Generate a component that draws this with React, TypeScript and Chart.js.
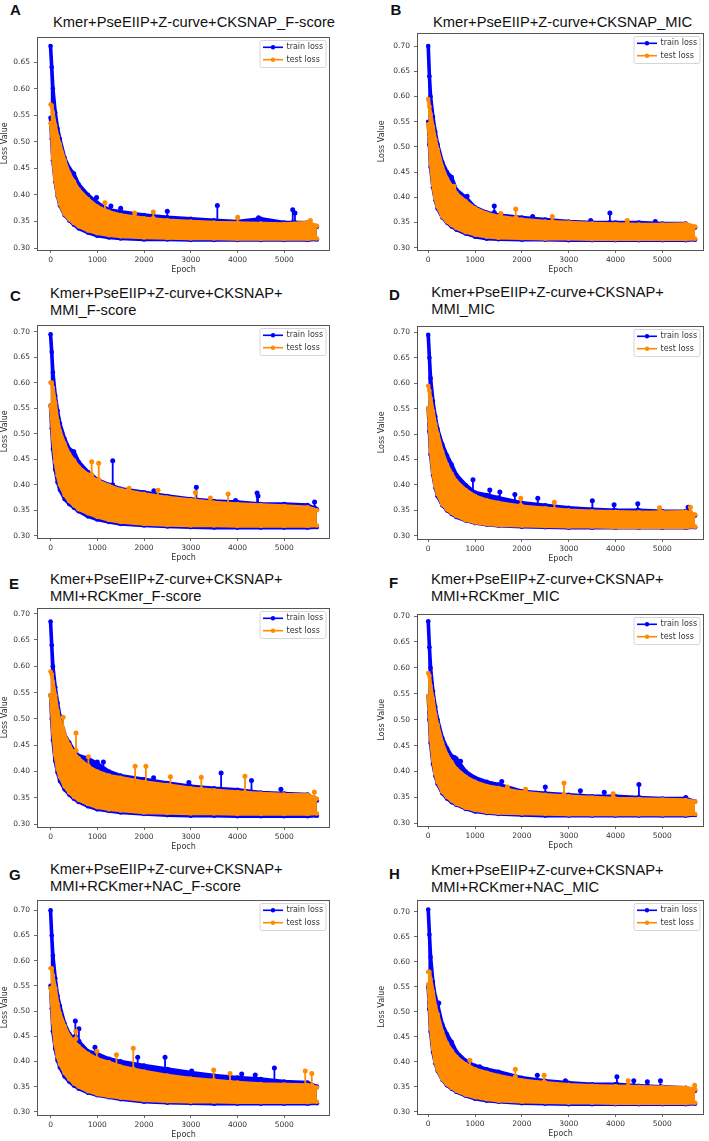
import React, { useEffect, useRef } from "react";
import { Chart, registerables } from "chart.js";

Chart.register(...registerables);

// ---------------- data ----------------
const EPOCHS = [0, 25, 50, 100, 150, 200, 300, 400, 500, 600, 800, 1000, 1250, 1500, 2000, 2500, 3000, 3500, 4000, 4500, 5000, 5500, 5700];
const Y_TICKS = [0.3, 0.35, 0.4, 0.45, 0.5, 0.55, 0.6, 0.65, 0.7];
const X_TICKS = [0, 1000, 2000, 3000, 4000, 5000];
const LEGEND_LABELS = ["train loss", "test loss"];
const X_LABEL = "Epoch";
const Y_LABEL = "Loss Value";

const LETTERS = ["A", "B", "C", "D", "E", "F", "G", "H"];
const TITLES = [
  "Kmer+PseEIIP+Z-curve+CKSNAP_F-score",
  "Kmer+PseEIIP+Z-curve+CKSNAP_MIC",
  "Kmer+PseEIIP+Z-curve+CKSNAP+\nMMI_F-score",
  "Kmer+PseEIIP+Z-curve+CKSNAP+\nMMI_MIC",
  "Kmer+PseEIIP+Z-curve+CKSNAP+\nMMI+RCKmer_F-score",
  "Kmer+PseEIIP+Z-curve+CKSNAP+\nMMI+RCKmer_MIC",
  "Kmer+PseEIIP+Z-curve+CKSNAP+\nMMI+RCKmer+NAC_F-score",
  "Kmer+PseEIIP+Z-curve+CKSNAP+\nMMI+RCKmer+NAC_MIC",
];

// upper / lower envelope of the dense loss traces, per panel
const A_TRAIN_HI = [0.680, 0.640, 0.600, 0.555, 0.525, 0.505, 0.470, 0.450, 0.440, 0.420, 0.400, 0.385, 0.372, 0.368, 0.362, 0.358, 0.355, 0.352, 0.350, 0.355, 0.348, 0.348, 0.340];
const A_TRAIN_LO = [0.545, 0.505, 0.465, 0.425, 0.398, 0.380, 0.362, 0.352, 0.344, 0.337, 0.329, 0.323, 0.320, 0.318, 0.316, 0.316, 0.315, 0.315, 0.315, 0.315, 0.315, 0.315, 0.316];
const A_TEST_HI = [0.570, 0.568, 0.555, 0.530, 0.510, 0.495, 0.465, 0.440, 0.425, 0.410, 0.392, 0.378, 0.368, 0.362, 0.356, 0.352, 0.350, 0.348, 0.347, 0.346, 0.345, 0.348, 0.342];
const A_TEST_LO = [0.535, 0.520, 0.470, 0.428, 0.400, 0.383, 0.364, 0.354, 0.347, 0.341, 0.333, 0.328, 0.324, 0.322, 0.320, 0.319, 0.318, 0.318, 0.317, 0.317, 0.317, 0.317, 0.318];
const A_TRAIN_SPIKES = [[985, 0.375, 0.395], [1292, 0.365, 0.379], [1500, 0.365, 0.375], [2498, 0.355, 0.369], [3569, 0.35, 0.38], [4450, 0.35, 0.357], [5182, 0.348, 0.372], [5230, 0.348, 0.366]];
const A_TEST_SPIKES = [[1163, 0.37, 0.385], [1800, 0.358, 0.366], [2198, 0.356, 0.368], [4004, 0.347, 0.358], [5560, 0.345, 0.352]];

const B_TRAIN_HI = [0.700, 0.640, 0.600, 0.560, 0.530, 0.505, 0.470, 0.450, 0.440, 0.415, 0.400, 0.380, 0.370, 0.365, 0.360, 0.356, 0.352, 0.350, 0.350, 0.350, 0.348, 0.348, 0.340];
const B_TRAIN_LO = [0.550, 0.505, 0.460, 0.420, 0.395, 0.378, 0.360, 0.350, 0.342, 0.336, 0.328, 0.322, 0.318, 0.317, 0.316, 0.316, 0.315, 0.315, 0.315, 0.315, 0.315, 0.315, 0.316];
const B_TEST_HI = [0.595, 0.580, 0.565, 0.540, 0.515, 0.495, 0.460, 0.437, 0.422, 0.408, 0.392, 0.378, 0.368, 0.362, 0.356, 0.352, 0.350, 0.348, 0.347, 0.346, 0.346, 0.347, 0.342];
const B_TEST_LO = [0.545, 0.520, 0.470, 0.425, 0.398, 0.382, 0.362, 0.352, 0.345, 0.339, 0.331, 0.326, 0.322, 0.320, 0.319, 0.318, 0.318, 0.317, 0.317, 0.317, 0.317, 0.317, 0.318];
const B_TRAIN_SPIKES = [[830, 0.39, 0.402], [1410, 0.37, 0.383], [2230, 0.355, 0.362], [3470, 0.35, 0.354], [3880, 0.35, 0.369], [4850, 0.348, 0.352]];
const B_TEST_SPIKES = [[550, 0.415, 0.422], [1550, 0.36, 0.368], [1870, 0.36, 0.377], [2650, 0.352, 0.362], [4250, 0.348, 0.354]];

const C_TRAIN_HI = [0.695, 0.660, 0.620, 0.575, 0.545, 0.520, 0.490, 0.470, 0.465, 0.445, 0.425, 0.410, 0.400, 0.392, 0.385, 0.378, 0.372, 0.368, 0.366, 0.362, 0.362, 0.360, 0.352];
const C_TRAIN_LO = [0.555, 0.510, 0.470, 0.430, 0.405, 0.390, 0.372, 0.362, 0.355, 0.348, 0.338, 0.332, 0.327, 0.323, 0.320, 0.318, 0.317, 0.316, 0.316, 0.316, 0.316, 0.316, 0.317];
const C_TEST_HI = [0.600, 0.600, 0.590, 0.560, 0.525, 0.505, 0.480, 0.460, 0.448, 0.435, 0.420, 0.408, 0.398, 0.390, 0.382, 0.375, 0.370, 0.365, 0.362, 0.360, 0.358, 0.356, 0.350];
const C_TEST_LO = [0.555, 0.530, 0.490, 0.445, 0.418, 0.400, 0.380, 0.368, 0.360, 0.352, 0.344, 0.337, 0.331, 0.327, 0.323, 0.321, 0.320, 0.320, 0.319, 0.319, 0.319, 0.319, 0.320];
const C_TRAIN_SPIKES = [[1330, 0.40, 0.447], [2211, 0.375, 0.388], [3120, 0.37, 0.395], [3960, 0.36, 0.369], [4420, 0.36, 0.384], [4440, 0.36, 0.378], [5650, 0.355, 0.366]];
const C_TEST_SPIKES = [[880, 0.42, 0.445], [1030, 0.41, 0.442], [1680, 0.385, 0.393], [2300, 0.375, 0.389], [3100, 0.365, 0.385], [3420, 0.362, 0.374], [3800, 0.36, 0.382]];

const D_TRAIN_HI = [0.695, 0.650, 0.610, 0.565, 0.535, 0.510, 0.480, 0.458, 0.440, 0.420, 0.400, 0.385, 0.380, 0.375, 0.365, 0.360, 0.355, 0.352, 0.350, 0.350, 0.348, 0.348, 0.340];
const D_TRAIN_LO = [0.550, 0.505, 0.460, 0.420, 0.395, 0.378, 0.360, 0.350, 0.343, 0.337, 0.330, 0.325, 0.322, 0.320, 0.318, 0.317, 0.316, 0.316, 0.316, 0.316, 0.316, 0.316, 0.317];
const D_TEST_HI = [0.595, 0.585, 0.570, 0.545, 0.520, 0.500, 0.465, 0.440, 0.422, 0.407, 0.390, 0.378, 0.370, 0.365, 0.358, 0.354, 0.350, 0.348, 0.347, 0.346, 0.346, 0.347, 0.342];
const D_TEST_LO = [0.550, 0.525, 0.470, 0.425, 0.398, 0.382, 0.362, 0.352, 0.345, 0.339, 0.331, 0.326, 0.323, 0.321, 0.320, 0.319, 0.318, 0.318, 0.317, 0.317, 0.317, 0.317, 0.318];
const D_TRAIN_SPIKES = [[955, 0.385, 0.41], [1315, 0.375, 0.39], [1530, 0.37, 0.386], [1850, 0.365, 0.381], [2340, 0.357, 0.374], [3505, 0.35, 0.369], [3970, 0.35, 0.361], [4475, 0.35, 0.363], [5550, 0.347, 0.356]];
const D_TEST_SPIKES = [[1975, 0.36, 0.374], [2694, 0.352, 0.366], [4940, 0.348, 0.355], [5600, 0.347, 0.356]];

const E_TRAIN_HI = [0.685, 0.640, 0.600, 0.560, 0.530, 0.505, 0.470, 0.455, 0.440, 0.430, 0.425, 0.415, 0.400, 0.392, 0.385, 0.378, 0.372, 0.368, 0.365, 0.360, 0.358, 0.356, 0.345];
const E_TRAIN_LO = [0.545, 0.500, 0.460, 0.420, 0.398, 0.382, 0.366, 0.356, 0.348, 0.342, 0.334, 0.328, 0.325, 0.322, 0.319, 0.317, 0.316, 0.316, 0.315, 0.315, 0.315, 0.315, 0.316];
const E_TEST_HI = [0.590, 0.585, 0.570, 0.545, 0.515, 0.495, 0.470, 0.450, 0.435, 0.425, 0.410, 0.400, 0.392, 0.388, 0.380, 0.374, 0.368, 0.364, 0.361, 0.358, 0.356, 0.355, 0.348];
const E_TEST_LO = [0.545, 0.520, 0.475, 0.432, 0.405, 0.390, 0.372, 0.360, 0.352, 0.346, 0.338, 0.332, 0.328, 0.326, 0.322, 0.321, 0.320, 0.320, 0.319, 0.319, 0.319, 0.319, 0.320];
const E_TRAIN_SPIKES = [[1000, 0.40, 0.418], [1130, 0.40, 0.418], [1347, 0.385, 0.393], [2205, 0.375, 0.388], [2960, 0.365, 0.379], [3650, 0.358, 0.397], [4300, 0.356, 0.383], [4930, 0.354, 0.366]];
const E_TEST_SPIKES = [[270, 0.48, 0.503], [545, 0.44, 0.473], [810, 0.41, 0.428], [1810, 0.38, 0.41], [2040, 0.378, 0.41], [2565, 0.372, 0.39], [3225, 0.366, 0.389], [4160, 0.36, 0.391], [5645, 0.35, 0.361]];

const F_TRAIN_HI = [0.690, 0.640, 0.600, 0.555, 0.525, 0.500, 0.465, 0.445, 0.430, 0.425, 0.400, 0.388, 0.380, 0.375, 0.362, 0.358, 0.355, 0.352, 0.352, 0.350, 0.348, 0.348, 0.342];
const F_TRAIN_LO = [0.545, 0.500, 0.455, 0.415, 0.392, 0.376, 0.358, 0.348, 0.341, 0.336, 0.328, 0.323, 0.320, 0.318, 0.316, 0.315, 0.315, 0.315, 0.315, 0.315, 0.315, 0.315, 0.316];
const F_TEST_HI = [0.590, 0.585, 0.565, 0.540, 0.510, 0.490, 0.455, 0.432, 0.418, 0.405, 0.390, 0.380, 0.372, 0.368, 0.360, 0.355, 0.352, 0.350, 0.348, 0.347, 0.346, 0.345, 0.342];
const F_TEST_LO = [0.545, 0.520, 0.468, 0.423, 0.396, 0.380, 0.361, 0.351, 0.344, 0.338, 0.330, 0.326, 0.322, 0.320, 0.319, 0.318, 0.317, 0.317, 0.317, 0.317, 0.317, 0.317, 0.318];
const F_TRAIN_SPIKES = [[560, 0.42, 0.427], [690, 0.40, 0.42], [930, 0.38, 0.39], [1355, 0.365, 0.376], [1570, 0.365, 0.381], [2500, 0.355, 0.37], [3250, 0.352, 0.363], [3760, 0.35, 0.36], [4500, 0.35, 0.375], [5500, 0.346, 0.35]];
const F_TEST_SPIKES = [[1690, 0.365, 0.37], [2080, 0.358, 0.366], [2900, 0.355, 0.378], [3950, 0.35, 0.357]];

const G_TRAIN_HI = [0.700, 0.650, 0.610, 0.565, 0.530, 0.510, 0.475, 0.455, 0.445, 0.440, 0.420, 0.415, 0.405, 0.400, 0.392, 0.385, 0.378, 0.372, 0.368, 0.365, 0.360, 0.358, 0.350];
const G_TRAIN_LO = [0.550, 0.505, 0.460, 0.425, 0.402, 0.388, 0.370, 0.360, 0.352, 0.346, 0.338, 0.333, 0.329, 0.325, 0.320, 0.318, 0.317, 0.316, 0.316, 0.316, 0.316, 0.316, 0.317];
const G_TEST_HI = [0.585, 0.585, 0.570, 0.545, 0.515, 0.495, 0.470, 0.450, 0.440, 0.430, 0.415, 0.405, 0.398, 0.390, 0.380, 0.372, 0.366, 0.362, 0.358, 0.355, 0.354, 0.353, 0.348];
const G_TEST_LO = [0.545, 0.520, 0.478, 0.435, 0.410, 0.395, 0.377, 0.365, 0.356, 0.350, 0.341, 0.335, 0.331, 0.328, 0.323, 0.321, 0.320, 0.320, 0.319, 0.319, 0.319, 0.319, 0.320];
const G_TRAIN_SPIKES = [[530, 0.45, 0.48], [607, 0.44, 0.465], [950, 0.41, 0.428], [1865, 0.39, 0.408], [2450, 0.38, 0.408], [3020, 0.365, 0.381], [4090, 0.358, 0.375], [4380, 0.356, 0.373], [4790, 0.355, 0.387]];
const G_TEST_SPIKES = [[540, 0.445, 0.46], [990, 0.405, 0.42], [1410, 0.39, 0.413], [1770, 0.385, 0.426], [3490, 0.362, 0.383], [3840, 0.358, 0.376], [5450, 0.352, 0.381], [5590, 0.352, 0.376]];

const H_TRAIN_HI = [0.705, 0.655, 0.610, 0.560, 0.530, 0.515, 0.475, 0.455, 0.440, 0.420, 0.402, 0.392, 0.385, 0.380, 0.368, 0.362, 0.358, 0.355, 0.355, 0.352, 0.350, 0.348, 0.342];
const H_TRAIN_LO = [0.550, 0.505, 0.460, 0.420, 0.397, 0.382, 0.364, 0.353, 0.346, 0.340, 0.332, 0.326, 0.322, 0.320, 0.317, 0.316, 0.315, 0.315, 0.315, 0.315, 0.315, 0.315, 0.316];
const H_TEST_HI = [0.580, 0.580, 0.565, 0.540, 0.512, 0.495, 0.460, 0.437, 0.422, 0.410, 0.395, 0.385, 0.378, 0.372, 0.363, 0.358, 0.354, 0.352, 0.351, 0.350, 0.349, 0.348, 0.345];
const H_TEST_LO = [0.555, 0.525, 0.470, 0.427, 0.400, 0.384, 0.365, 0.355, 0.348, 0.342, 0.334, 0.329, 0.325, 0.322, 0.320, 0.319, 0.318, 0.318, 0.317, 0.317, 0.317, 0.317, 0.318];
const H_TRAIN_SPIKES = [[225, 0.49, 0.518], [1100, 0.38, 0.39], [2330, 0.36, 0.373], [2930, 0.355, 0.362], [4030, 0.355, 0.37], [4390, 0.352, 0.362], [4680, 0.352, 0.36], [4960, 0.35, 0.362]];
const H_TEST_SPIKES = [[890, 0.385, 0.403], [1860, 0.37, 0.385], [2475, 0.36, 0.373], [4270, 0.352, 0.362], [5690, 0.345, 0.353]];

const SERIES = [
  [A_TRAIN_HI, A_TRAIN_LO, A_TEST_HI, A_TEST_LO, A_TRAIN_SPIKES, A_TEST_SPIKES],
  [B_TRAIN_HI, B_TRAIN_LO, B_TEST_HI, B_TEST_LO, B_TRAIN_SPIKES, B_TEST_SPIKES],
  [C_TRAIN_HI, C_TRAIN_LO, C_TEST_HI, C_TEST_LO, C_TRAIN_SPIKES, C_TEST_SPIKES],
  [D_TRAIN_HI, D_TRAIN_LO, D_TEST_HI, D_TEST_LO, D_TRAIN_SPIKES, D_TEST_SPIKES],
  [E_TRAIN_HI, E_TRAIN_LO, E_TEST_HI, E_TEST_LO, E_TRAIN_SPIKES, E_TEST_SPIKES],
  [F_TRAIN_HI, F_TRAIN_LO, F_TEST_HI, F_TEST_LO, F_TRAIN_SPIKES, F_TEST_SPIKES],
  [G_TRAIN_HI, G_TRAIN_LO, G_TEST_HI, G_TEST_LO, G_TRAIN_SPIKES, G_TEST_SPIKES],
  [H_TRAIN_HI, H_TRAIN_LO, H_TEST_HI, H_TEST_LO, H_TRAIN_SPIKES, H_TEST_SPIKES],
];

// ---------------- layout / style ----------------
const BLUE = "#0000ff";
const ORANGE = "#ff8c00";
const TEXT = "#333333";
const TICK_FONT = { family: "DejaVu Sans", size: 7.5 };
const LABEL_FONT = { family: "DejaVu Sans", size: 8 };

// plot-box geometry per panel (page px) and axis ranges
const PANELS = [
  { col: 0, top: 32, bottom: 250, yMin: 0.2963, yMax: 0.698, letter: [10, 1.3], title: [53, 14.1] },
  { col: 1, top: 28, bottom: 250, yMin: 0.2955, yMax: 0.727, letter: [390.5, 0.5], title: [433, 14.1] },
  { col: 0, top: 320, bottom: 538, yMin: 0.2956, yMax: 0.714, letter: [10, 287], title: [50, 284.7] },
  { col: 1, top: 321, bottom: 539, yMin: 0.2937, yMax: 0.7135, letter: [389, 285.6], title: [431.3, 284.4] },
  { col: 0, top: 603, bottom: 827, yMin: 0.2944, yMax: 0.7118, letter: [9, 574.6], title: [50, 571.4] },
  { col: 1, top: 609, bottom: 826, yMin: 0.2949, yMax: 0.705, letter: [389, 573.6], title: [431, 571.4] },
  { col: 0, top: 895, bottom: 1115, yMin: 0.2936, yMax: 0.7214, letter: [9, 866.3], title: [50, 861.4] },
  { col: 1, top: 895, bottom: 1114, yMin: 0.2955, yMax: 0.725, letter: [389, 864.6], title: [431, 862] },
];
const COLS = [
  { canvasLeft: 0, canvasWidth: 354, axisWidth: 37, padRight: 24, xMin: -290, xMax: 5980 },
  { canvasLeft: 377, canvasWidth: 332, axisWidth: 40, padRight: 5, xMin: -240, xMax: 5890 },
];
const PAD_TOP = 4;
const X_AXIS_H = 25;
const PAD_BOTTOM = 1;

const envelope = (ys: number[]) => EPOCHS.map((x, i) => ({ x, y: ys[i] }));
const spikes = (sp: number[][]) =>
  sp.flatMap(([x, base, peak]) => [{ x, y: base }, { x, y: peak }, { x, y: null as any }]);

const framePlugin = {
  id: "mplFrame",
  afterDatasetsDraw(chart: any) {
    const { ctx, chartArea: a } = chart;
    ctx.save();
    ctx.strokeStyle = "#555";
    ctx.lineWidth = 1;
    ctx.strokeRect(Math.round(a.left) + 0.5, Math.round(a.top) + 0.5, Math.round(a.right - a.left) - 1, Math.round(a.bottom - a.top) - 1);
    ctx.restore();
  },
};

const legendPlugin = {
  id: "mplLegend",
  afterDraw(chart: any) {
    const { ctx, chartArea: a } = chart;
    const w = 66;
    const h = 27;
    const x0 = a.right - 4 - w;
    const y0 = a.top + 4;
    ctx.save();
    ctx.beginPath();
    const r = 2;
    ctx.moveTo(x0 + r, y0);
    ctx.lineTo(x0 + w - r, y0);
    ctx.quadraticCurveTo(x0 + w, y0, x0 + w, y0 + r);
    ctx.lineTo(x0 + w, y0 + h - r);
    ctx.quadraticCurveTo(x0 + w, y0 + h, x0 + w - r, y0 + h);
    ctx.lineTo(x0 + r, y0 + h);
    ctx.quadraticCurveTo(x0, y0 + h, x0, y0 + h - r);
    ctx.lineTo(x0, y0 + r);
    ctx.quadraticCurveTo(x0, y0, x0 + r, y0);
    ctx.closePath();
    ctx.fillStyle = "rgba(255,255,255,0.85)";
    ctx.fill();
    ctx.strokeStyle = "#cccccc";
    ctx.lineWidth = 0.8;
    ctx.stroke();
    const colors = [BLUE, ORANGE];
    LEGEND_LABELS.forEach((label, i) => {
      const yy = y0 + 6.8 + i * 12.4;
      ctx.strokeStyle = colors[i];
      ctx.lineWidth = 1.6;
      ctx.beginPath();
      ctx.moveTo(x0 + 3, yy);
      ctx.lineTo(x0 + 23, yy);
      ctx.stroke();
      ctx.fillStyle = colors[i];
      ctx.beginPath();
      ctx.arc(x0 + 13, yy, 2.2, 0, Math.PI * 2);
      ctx.fill();
      ctx.fillStyle = TEXT;
      ctx.font = `${LABEL_FONT.size}px "${LABEL_FONT.family}"`;
      ctx.textBaseline = "middle";
      ctx.textAlign = "left";
      ctx.fillText(label, x0 + 26.5, yy);
    });
    ctx.restore();
  },
};

function Panel({ index }: { index: number }) {
  const ref = useRef<HTMLCanvasElement | null>(null);
  const p = PANELS[index];
  const c = COLS[p.col];
  const canvasTop = p.top - PAD_TOP;
  const canvasHeight = p.bottom - p.top + PAD_TOP + X_AXIS_H + PAD_BOTTOM;

  useEffect(() => {
    if (!ref.current) return;
    const [trHi, trLo, teHi, teLo, trSp, teSp] = SERIES[index] as any;
    const envStyle = (color: string) => ({
      borderColor: color,
      backgroundColor: color,
      borderWidth: 3.6,
      pointRadius: 2.3,
      pointBackgroundColor: color,
      pointBorderWidth: 0,
      borderJoinStyle: "round",
      borderCapStyle: "round",
      tension: 0,
    });
    const spikeStyle = (color: string) => ({
      borderColor: color,
      backgroundColor: color,
      borderWidth: 1.8,
      pointRadius: 2.5,
      pointBackgroundColor: color,
      pointBorderWidth: 0,
      spanGaps: false,
      fill: false,
    });
    const chart = new Chart(ref.current, {
      type: "line",
      data: {
        datasets: [
          { label: "train hi", data: envelope(trHi), fill: 1, order: 6, ...envStyle(BLUE) },
          { label: "train lo", data: envelope(trLo), fill: false, order: 5, ...envStyle(BLUE) },
          { label: LEGEND_LABELS[0], data: spikes(trSp), order: 4, ...spikeStyle(BLUE) },
          { label: "test hi", data: envelope(teHi), fill: 4, order: 3, ...envStyle(ORANGE) },
          { label: "test lo", data: envelope(teLo), fill: false, order: 2, ...envStyle(ORANGE) },
          { label: LEGEND_LABELS[1], data: spikes(teSp), order: 1, ...spikeStyle(ORANGE) },
        ] as any,
      },
      options: {
        animation: false,
        responsive: false,
        devicePixelRatio: 1,
        events: [],
        layout: { padding: { left: 0, top: PAD_TOP, right: c.padRight, bottom: PAD_BOTTOM } },
        plugins: { legend: { display: false }, tooltip: { enabled: false }, title: { display: false } },
        scales: {
          x: {
            type: "linear",
            min: c.xMin,
            max: c.xMax,
            afterBuildTicks: (s: any) => {
              s.ticks = X_TICKS.filter((v) => v >= c.xMin && v <= c.xMax).map((v) => ({ value: v }));
            },
            afterFit: (s: any) => {
              s.height = X_AXIS_H;
            },
            ticks: {
              callback: (v: any) => String(v),
              font: TICK_FONT,
              color: TEXT,
              padding: 3,
              maxRotation: 0,
              autoSkip: false,
            },
            grid: { display: true, drawOnChartArea: false, drawTicks: true, tickLength: 3, color: "#444", lineWidth: 0.8 },
            border: { display: false },
            title: { display: true, text: X_LABEL, font: LABEL_FONT, color: TEXT, padding: { top: 0, bottom: 0 } },
          },
          y: {
            type: "linear",
            min: p.yMin,
            max: p.yMax,
            afterBuildTicks: (s: any) => {
              s.ticks = Y_TICKS.filter((v) => v >= p.yMin && v <= p.yMax).map((v) => ({ value: v }));
            },
            afterFit: (s: any) => {
              s.width = c.axisWidth;
            },
            ticks: {
              callback: (v: any) => Number(v).toFixed(2),
              font: TICK_FONT,
              color: TEXT,
              padding: 4,
              autoSkip: false,
            },
            grid: { display: true, drawOnChartArea: false, drawTicks: true, tickLength: 3, color: "#444", lineWidth: 0.8 },
            border: { display: false },
            title: { display: true, text: Y_LABEL, font: LABEL_FONT, color: TEXT, padding: { top: 0, bottom: 0 } },
          },
        },
      } as any,
      plugins: [framePlugin, legendPlugin],
    });
    return () => chart.destroy();
  }, [index]);

  return (
    <canvas
      ref={ref}
      width={c.canvasWidth}
      height={canvasHeight}
      style={{
        position: "absolute",
        left: c.canvasLeft,
        top: canvasTop,
        width: c.canvasWidth,
        height: canvasHeight,
      }}
    />
  );
}

export default function App() {
  return (
    <div
      style={{
        position: "absolute",
        left: 0,
        top: 0,
        width: 709,
        height: 1141,
        background: "#ffffff",
        overflow: "hidden",
      }}
    >
      {PANELS.map((p, i) => (
        <React.Fragment key={i}>
          <div
            style={{
              position: "absolute",
              left: p.letter[0],
              top: p.letter[1],
              fontFamily: '"Liberation Sans", Arial, sans-serif',
              fontWeight: "bold",
              fontSize: 15,
              lineHeight: "17px",
              color: "#111",
            }}
          >
            {LETTERS[i]}
          </div>
          <div
            style={{
              position: "absolute",
              left: p.title[0],
              top: p.title[1],
              fontFamily: '"Liberation Sans", Arial, sans-serif',
              fontSize: 14.7,
              lineHeight: "17px",
              color: "#111",
              whiteSpace: "pre",
            }}
          >
            {TITLES[i]}
          </div>
          <Panel index={i} />
        </React.Fragment>
      ))}
    </div>
  );
}
